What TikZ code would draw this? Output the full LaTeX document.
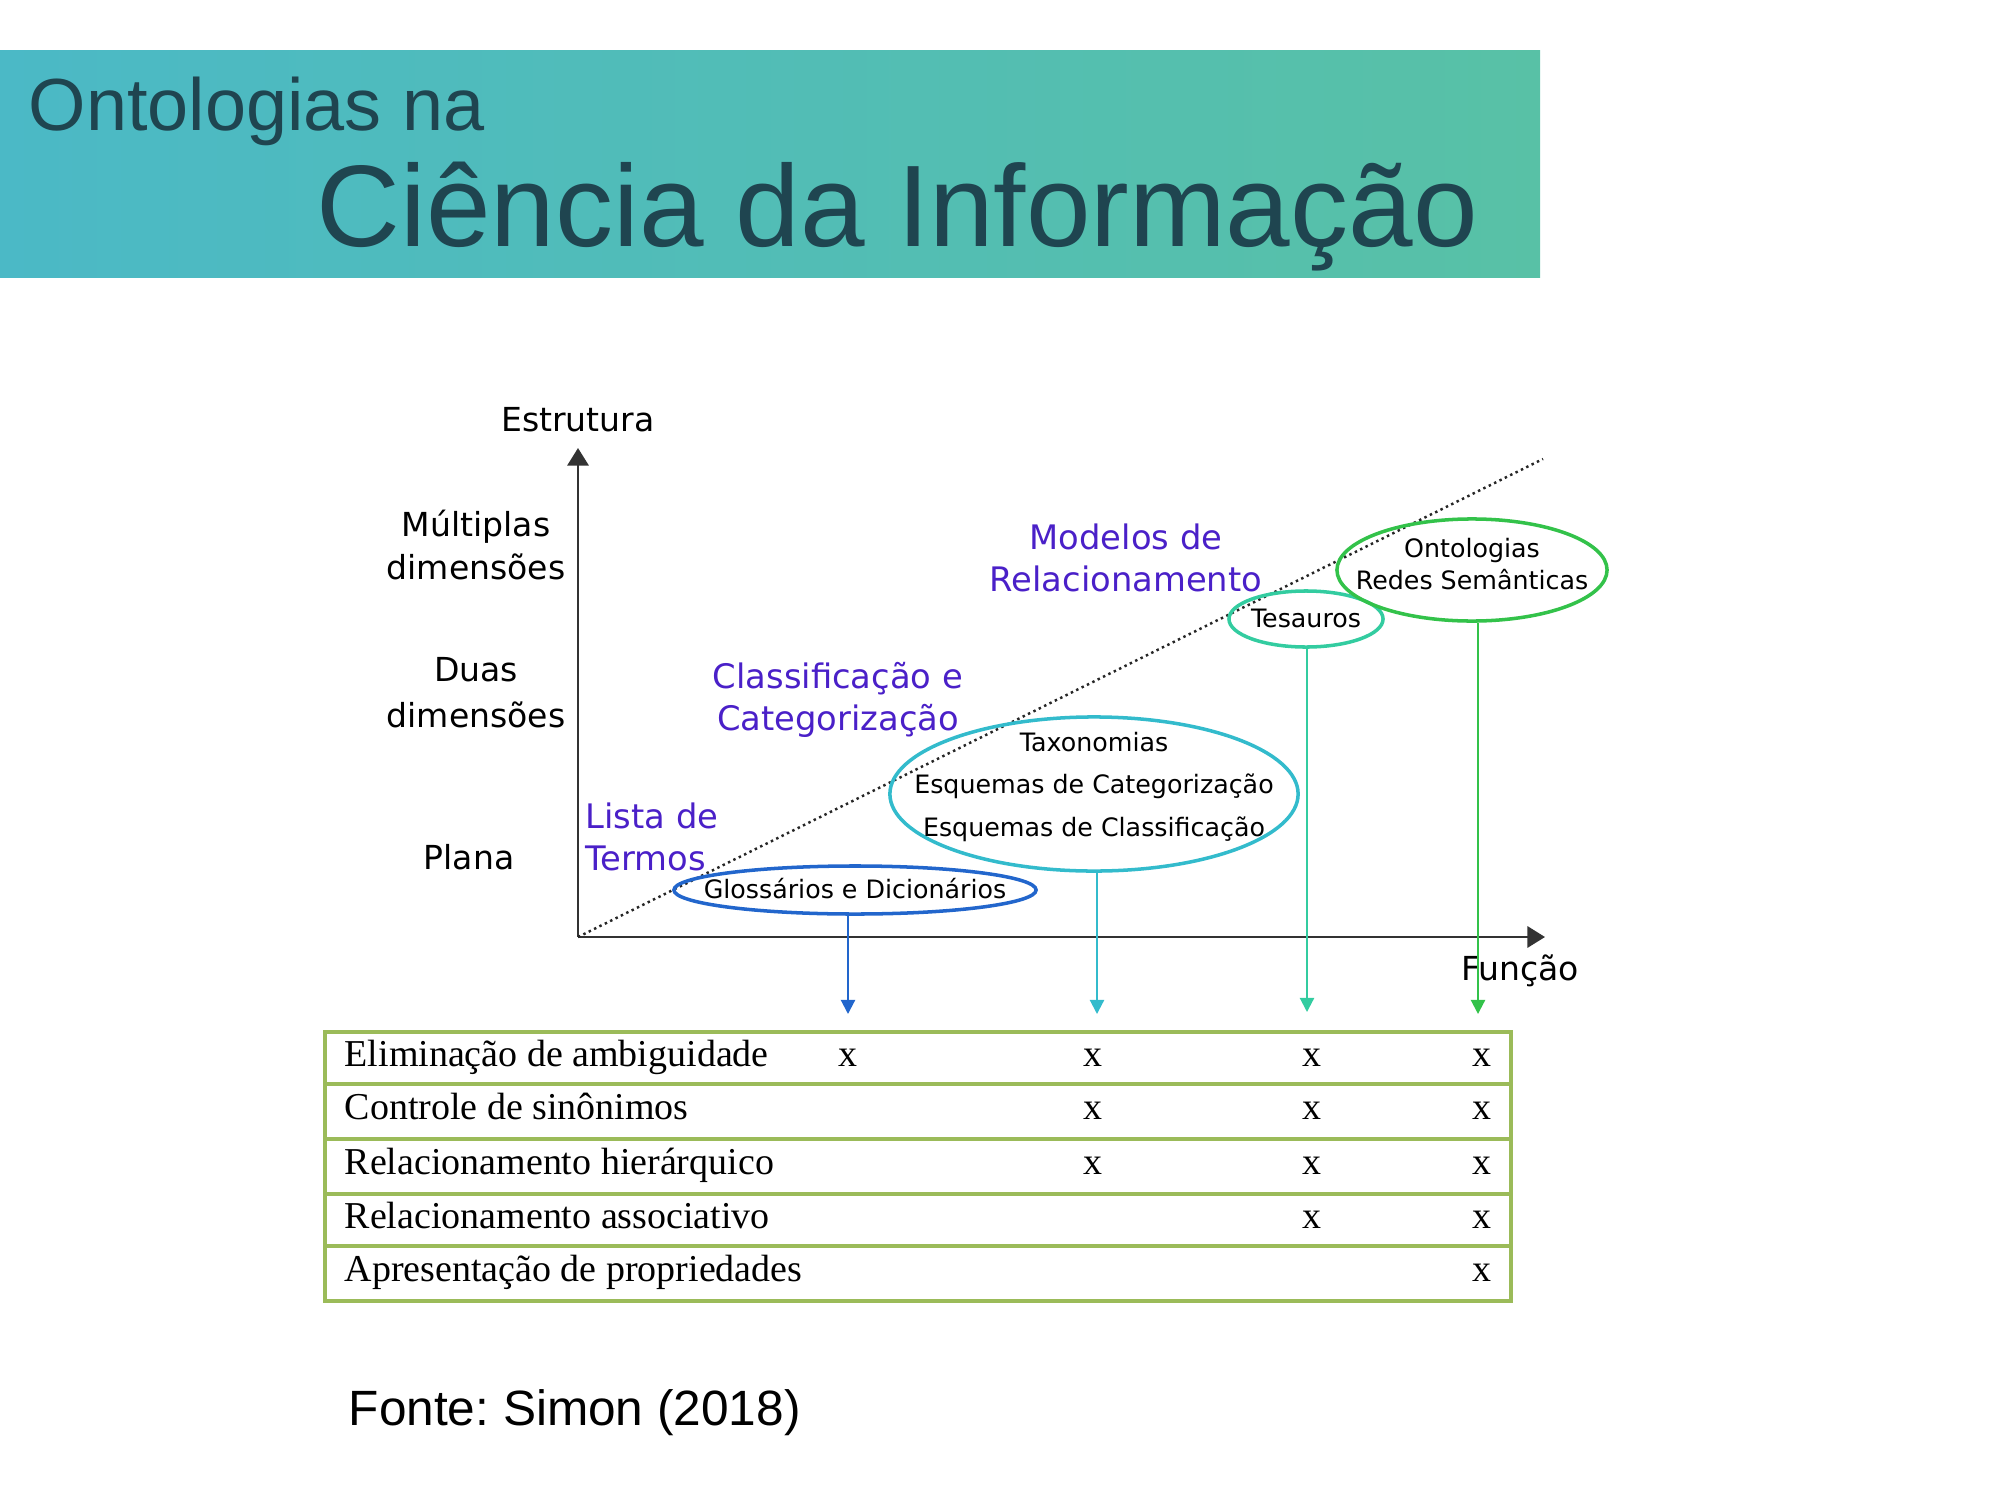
\documentclass[tikz,border=0pt]{standalone}
\usepackage{fontspec}
\setmainfont{Liberation Serif}
\newfontfamily\dejavu{DejaVu Sans}
\newfontfamily\arialfont{Liberation Sans}
\usetikzlibrary{shapes.geometric, arrows.meta}

\definecolor{bandleft}{HTML}{4BB9C6}
\definecolor{bandright}{HTML}{58C1A6}
\definecolor{titleink}{HTML}{1F4550}
\definecolor{groupink}{HTML}{4A20C8}
\definecolor{glossblue}{HTML}{2266CC}
\definecolor{taxocyan}{HTML}{33BBCC}
\definecolor{tesateal}{HTML}{33CCA0}
\definecolor{ontogreen}{HTML}{33C24A}
\definecolor{tablegreen}{HTML}{9BBB59}

% text inside an oval, kept out of the oval's size
\newcommand{\ovallines}[2][0pt]{\smash{\raisebox{#1}{\makebox[0pt]{\begin{tabular}{@{}c@{}}#2\end{tabular}}}}}

\begin{document}
\begin{tikzpicture}[
		x=0.01cm, y=-0.01cm,
		axislabel/.style={font=\dejavu\fontsize{9.4}{12.5}\selectfont, align=center, inner sep=0pt},
		group/.style={font=\dejavu\fontsize{9.6}{12}\selectfont, text=groupink, align=center, inner sep=0pt},
		oval/.style={ellipse, draw=#1, line width=1pt, inner sep=0pt},
		ovaltext/.style={font=\dejavu\fontsize{7.2}{#1}\selectfont},
		axis/.style={black!80, line width=0.8pt, -{Triangle[width=6pt, length=5pt]}},
		drop/.style={#1, line width=0.6pt, -{Triangle[width=4pt, length=4pt]}},
		cell/.style={font=\fontsize{10.8}{13}\selectfont, inner sep=0pt}
		]
		\useasboundingbox (0,0) rectangle (2000,1500);
		
		% Title band
		\shade[left color=bandleft, right color=bandright] (0,51) rectangle (1540,277);
		\node[anchor=base west, inner sep=0pt, text=titleink, font=\arialfont\fontsize{21}{21}\selectfont] (subtitle) at (28,130) {Ontologias na};
		\node[anchor=base west, inner sep=0pt, text=titleink, font=\arialfont\fontsize{33}{33}\selectfont] (title) at (316,246) {Ciência da Informação};
		
		% Axes
		\coordinate (origin) at (578,937);
		\coordinate (ytip) at (578,448);
		\coordinate (xtip) at (1545,937);
		\coordinate (diagend) at (1543,459);
		\draw[axis] (origin) -- (ytip);
		\draw[axis] (origin) -- (xtip);
		\draw[densely dotted, line width=0.7pt, black!85] (origin) -- (diagend);
		
		\node[axislabel] (estrutura) at (578,420) {Estrutura};
		\node[axislabel] (funcao) at (1520,971) {Função};
		
		% Levels of structure
		\node[axislabel] (multi) at (476,545) {Múltiplas\\dimensões};
		\node[axislabel, font=\dejavu\fontsize{9.4}{13}\selectfont] (duas) at (476,693) {Duas\\dimensões};
		\node[axislabel] (plana) at (469,857) {Plana};
		
		% Groups
		\node[group, anchor=west, align=left] (lista) at (585,837) {Lista de\\ Termos};
		\node[group] (classif) at (838,700) {Classificação e\\Categorização};
		\node[group] (modelos) at (1126,558) {Modelos de\\Relacionamento};
		
		% Ovals
		\node[oval=glossblue, minimum width=3.62cm, minimum height=0.48cm, ovaltext=9] (gloss) at (855,890) {\ovallines[-2.5pt]{Glossários e Dicionários}};
		\node[oval=taxocyan, minimum width=4.08cm, minimum height=1.54cm, ovaltext=12] (taxo) at (1094,794) {\ovallines[0.7pt]{Taxonomias\\Esquemas de Categorização\\Esquemas de Classificação}};
		\node[oval=tesateal, minimum width=1.54cm, minimum height=0.56cm, ovaltext=9] (tesa) at (1306,619) {\ovallines[-2.5pt]{Tesauros}};
		\node[oval=ontogreen, minimum width=2.70cm, minimum height=1.02cm, ovaltext=9] (onto) at (1472,570) {\ovallines[-1pt]{Ontologias\\Redes Semânticas}};
		
		% Drops to the table
		\coordinate (d1) at (848,1014);
		\coordinate (d2) at (1097,1014);
		\coordinate (d3) at (1307,1012);
		\coordinate (d4) at (1478,1014);
		\draw[drop=glossblue] (gloss.south -| d1) -- (d1);
		\draw[drop=taxocyan] (taxo.south -| d2) -- (d2);
		\draw[drop=tesateal] (tesa.south -| d3) -- (d3);
		\draw[drop=ontogreen] (onto.south -| d4) -- (d4);
		
		% Table
		\draw[tablegreen, line width=0.9pt] (325,1032) rectangle (1511,1301);
		\foreach \y in {1084,1139,1194,1246} {
			\draw[tablegreen, line width=0.9pt] (325,\y) -- (1511,\y);
		}
		\foreach \n/\y/\txt/\cols in {
			1/1058/Eliminação de ambiguidade/{848,1093,1312,1482},
			2/1111/Controle de sinônimos/{1093,1312,1482},
			3/1166/Relacionamento hierárquico/{1093,1312,1482},
			4/1220/Relacionamento associativo/{1312,1482},
			5/1273/Apresentação de propriedades/{1482}} {
			\node[cell, anchor=base west] (row\n) at (344,\y+8) {\txt};
			\foreach \c in \cols {
				\node[cell, anchor=base] (mark\n-\c) at (\c,\y+8) {x};
			}
		}
		
		% Source
		\node[anchor=west, inner sep=0pt, font=\arialfont\fontsize{14.1}{16}\selectfont] (fonte) at (348,1413) {Fonte:\ Simon (2018)};
		
	\end{tikzpicture}
\end{document}
